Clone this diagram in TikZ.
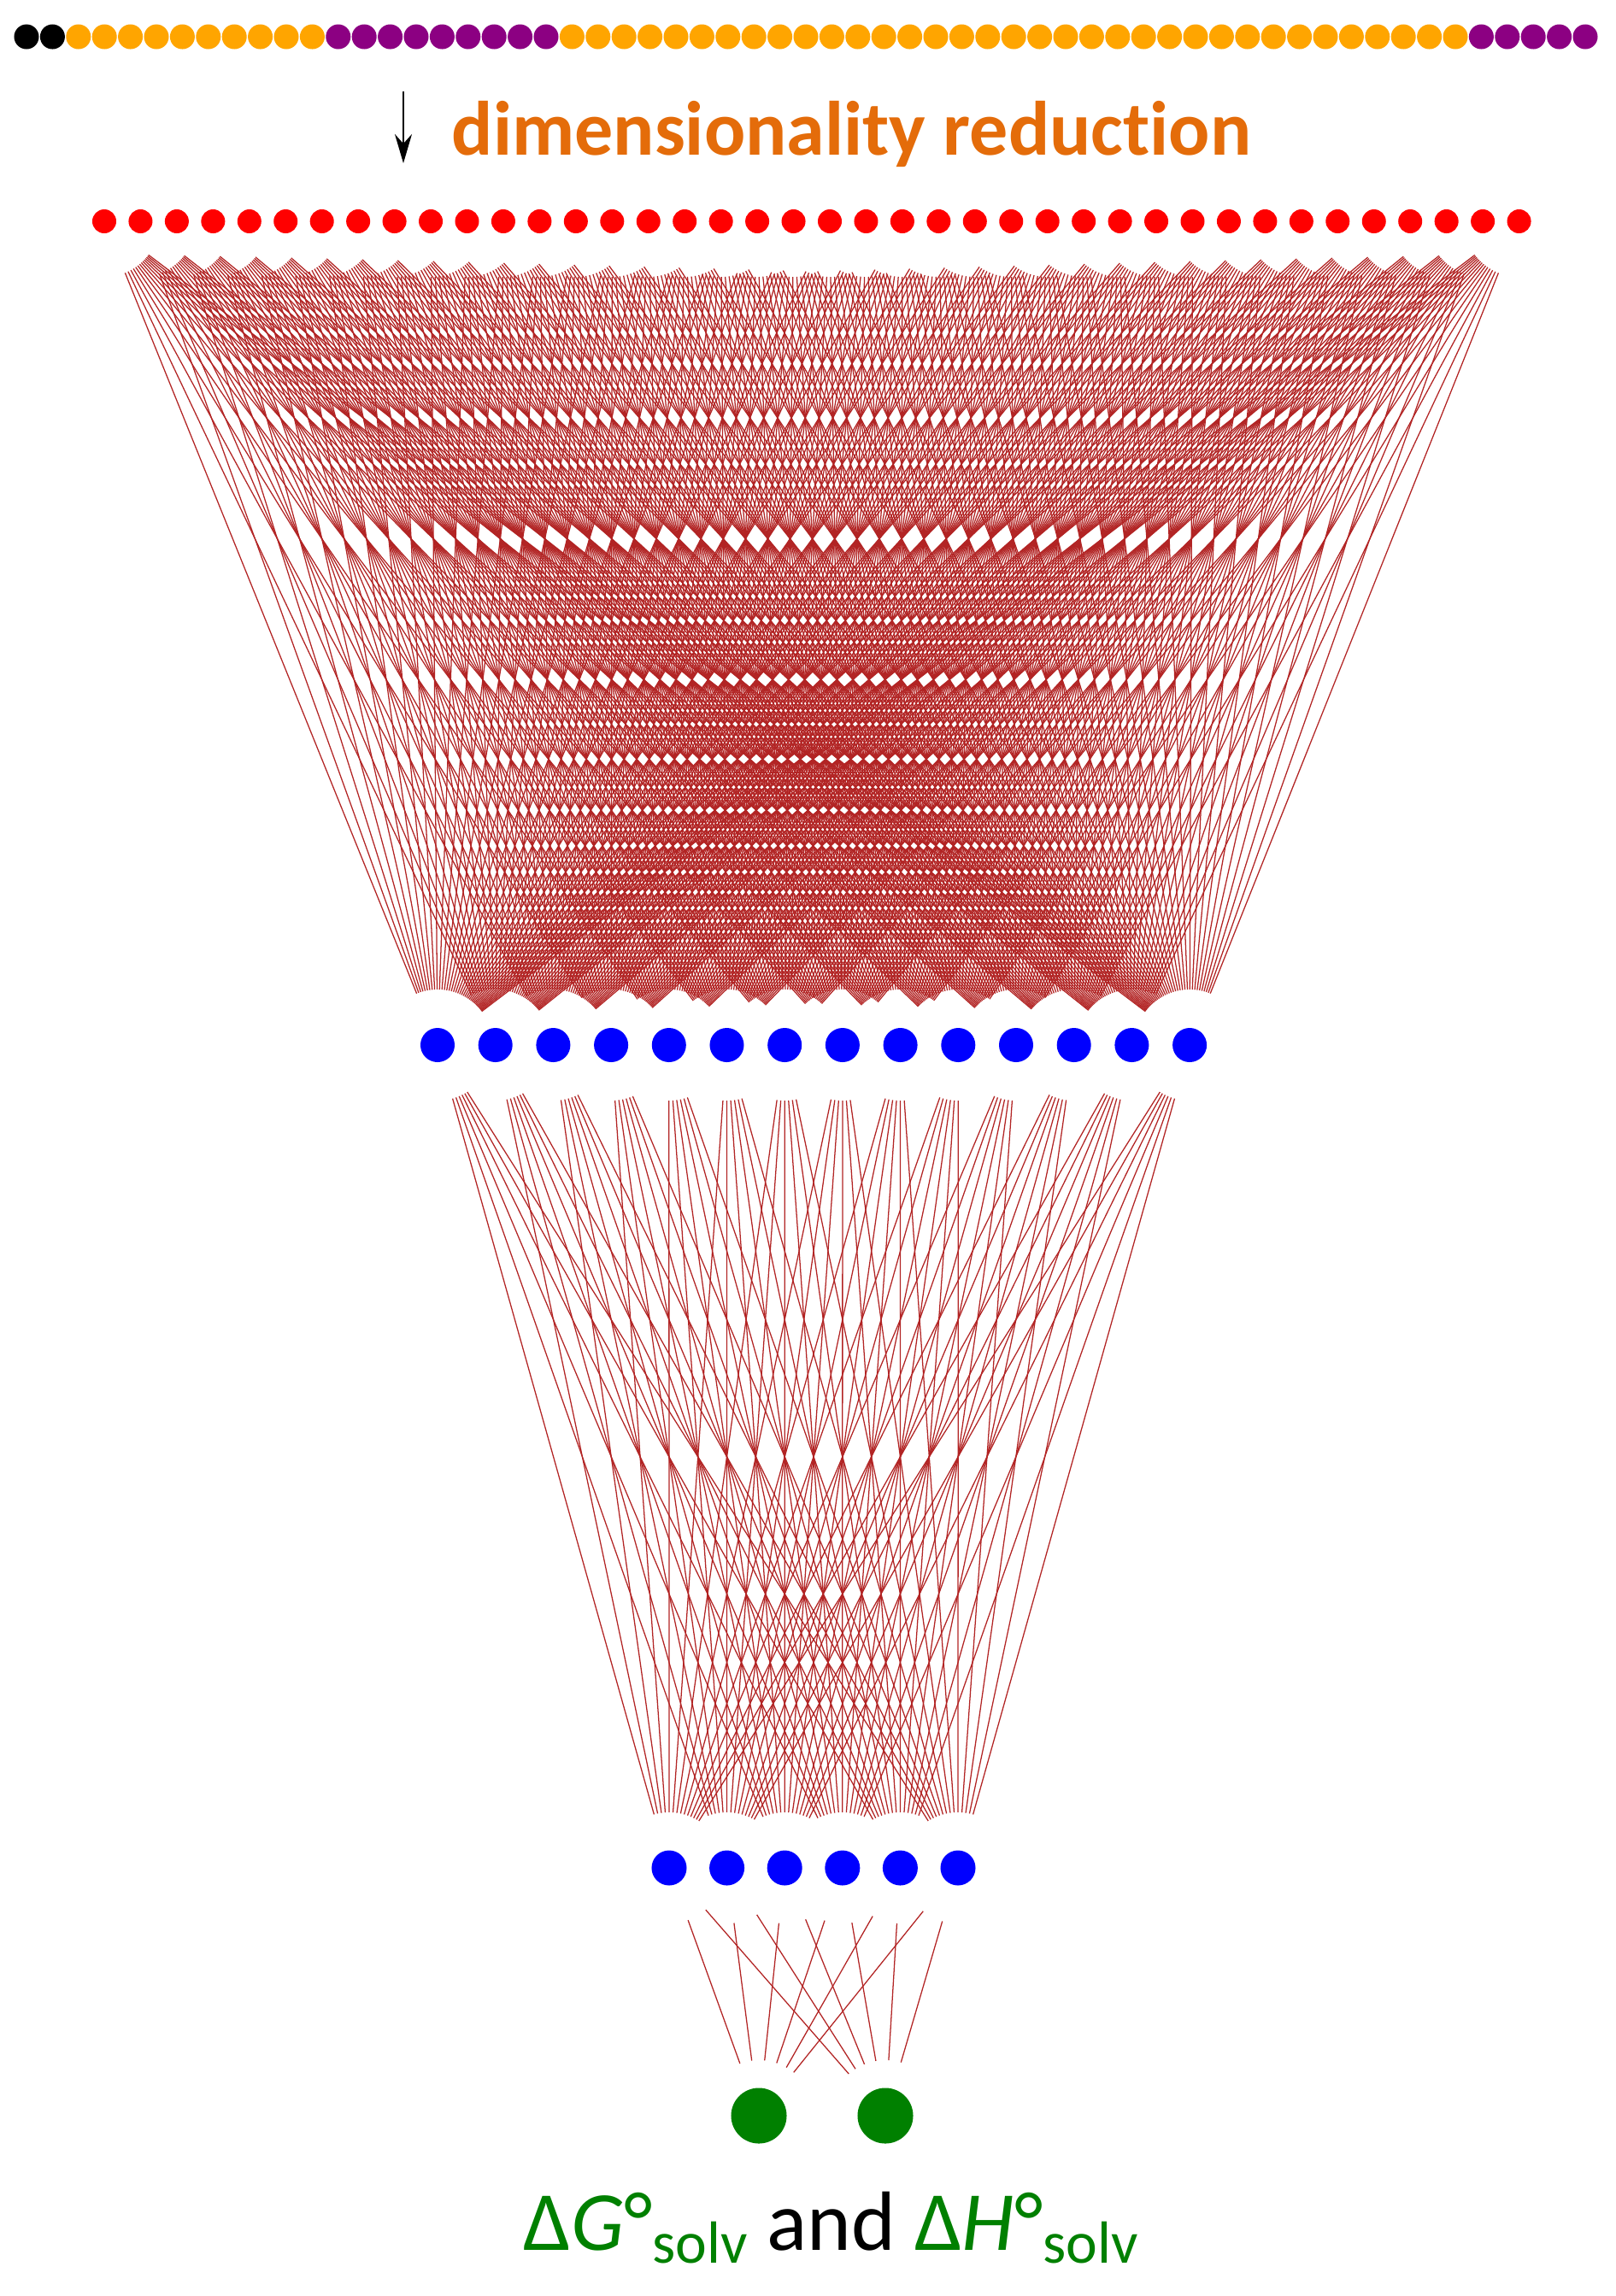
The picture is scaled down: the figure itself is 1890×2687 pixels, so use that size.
\documentclass[tikz,border=0pt]{standalone}
\usepackage[dvipsnames]{xcolor}
\usepackage{fontspec}
\setmainfont{Carlito}[Ligatures={CommonOff,ContextualOff}]
\usepackage{tikz}
\usetikzlibrary{arrows.meta}

\definecolor{featblack}{RGB}{0,0,0}
\definecolor{featorange}{RGB}{255,165,0}
\definecolor{featpurple}{RGB}{140,0,130}
\definecolor{dimorange}{RGB}{228,108,10}
\definecolor{wirered}{RGB}{178,36,36}
\definecolor{outgreen}{RGB}{0,128,0}

\tikzset{unit/.style = {circle,inner sep=0pt,draw=none}}
\tikzset{wire/.style = {wirered,line width=0.36pt,shorten <=0.65cm,shorten >=0.65cm}}
\newcommand{\lowsub}[1]{\raisebox{-0.15cm}{\fontsize{19.8}{23}\selectfont #1}}

\begin{document}
\begin{tikzpicture}[x=0.01cm,y=-0.01cm]
                    \useasboundingbox (0,0) rectangle (1890,2687);

                    % input features
                    \foreach \i in {0,...,60} {
                        \ifnum\i<2 \def\fc{featblack}\else
                        \ifnum\i<12 \def\fc{featorange}\else
                        \ifnum\i<21 \def\fc{featpurple}\else
                        \ifnum\i<56 \def\fc{featorange}\else
                        \def\fc{featpurple}\fi\fi\fi\fi
                        \node [unit,minimum size=0.29cm,fill=\fc] (f\i) at (31+30.4*\i,43) {};
                    }

                    \coordinate (arrtop) at (472,107);
                    \coordinate (arrbot) at (472,191);
                    \draw [line width=0.6pt,-{Stealth[length=0.34cm,width=0.2cm]}] (arrtop) -- (arrbot);
                    \node [anchor=base west,inner sep=0pt,text=dimorange,
                           font=\fontsize{25.6}{30}\selectfont\bfseries] (title) at (528,181) {dimensionality reduction};

                    % layers
                    \foreach \i in {1,...,40}
                        \node [unit,minimum size=0.28cm,fill=red] (r\i) at (122+42.45*\i-42.45,259) {};
                    \foreach \i in {1,...,14}
                        \node [unit,minimum size=0.40cm,fill=blue] (h\i) at (512+67.7*\i-67.7,1223) {};
                    \foreach \i in {1,...,6}
                        \node [unit,minimum size=0.41cm,fill=blue] (k\i) at (783+67.6*\i-67.6,2186) {};
                    \node [unit,minimum size=0.65cm,fill=outgreen] (o1) at (888,2476) {};
                    \node [unit,minimum size=0.65cm,fill=outgreen] (o2) at (1036,2476) {};

                    % connections
                    \foreach \i in {1,...,40}
                        \foreach \j in {1,...,14}
                            \draw [wire] (r\i.center) -- (h\j.center);
                    \foreach \i in {1,...,14}
                        \foreach \j in {1,...,6}
                            \draw [wire] (h\i.center) -- (k\j.center);
                    \foreach \i in {1,...,6}
                        \foreach \j in {1,2}
                            \draw [wire] (k\i.center) -- (o\j.center);

                    \node [anchor=base west,inner sep=0pt,font=\fontsize{28}{34}\selectfont] (result) at (612,2633)
                        {\textcolor{outgreen}{Δ\textit{G}°\lowsub{solv}} and \textcolor{outgreen}{Δ\textit{H}°\lowsub{solv}}};
                \end{tikzpicture}
\end{document}
